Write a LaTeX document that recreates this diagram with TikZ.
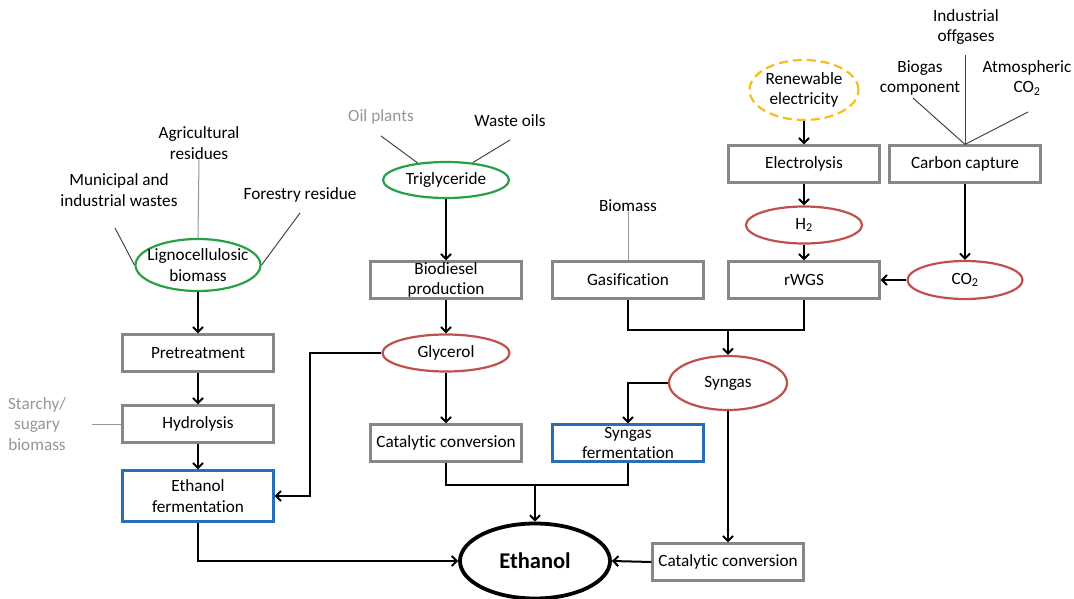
\documentclass[tikz,border=0pt]{standalone}
\usepackage{fontspec}
\setmainfont[Ligatures={NoCommon}]{Carlito}
\usetikzlibrary{shapes.geometric,arrows.meta}
\definecolor{grn}{RGB}{40,160,70}
\definecolor{redb}{RGB}{192,80,77}
\definecolor{blu}{RGB}{40,112,182}
\definecolor{gbox}{RGB}{135,135,135}
\definecolor{yel}{RGB}{245,190,30}
\definecolor{gtxt}{RGB}{150,150,150}
\definecolor{tline}{RGB}{70,70,70}
\begin{document}
\begin{tikzpicture}[x=1pt,y=-1pt,
  font=\fontsize{17.2}{20.5}\selectfont,
  box/.style={draw=gbox,line width=2.2pt,minimum width=151pt,minimum height=37pt,inner sep=0pt,align=center,fill=white},
  bbox/.style={box,draw=blu},
  ell/.style={ellipse,line width=2.2pt,inner sep=0pt},
  gell/.style={ell,draw=grn},
  rell/.style={ell,draw=redb},
  lbl/.style={align=center,inner sep=0pt},
  glbl/.style={lbl,text=gtxt},
  arr/.style={-{Straight Barb[length=5pt,width=10pt]},line width=2pt},
  con/.style={line width=2pt},
  thinl/.style={line width=1pt,draw=tline},
  thing/.style={line width=1pt,draw=gtxt}
]
\useasboundingbox (0,0) rectangle (1074,599);

% ellipses
\node[gell,minimum width=125pt,minimum height=52pt] (lig) at (198,265) {};
\node[lbl] at (lig) {Lignocellulosic\\biomass};
\node[gell,minimum width=126pt,minimum height=36pt] (trig) at (446,180) {};
\node[lbl] at (trig) {Triglyceride};
\node[rell,minimum width=127pt,minimum height=37pt] (glyc) at (446,353) {};
\node[lbl] at (glyc) {Glycerol};
\node[rell,minimum width=118pt,minimum height=54pt] (syn) at (728,383) {};
\node[lbl] at (syn) {Syngas};
\node[rell,minimum width=116pt,minimum height=37pt] (h2) at (804,225) {};
\node[lbl] at (h2) {H\textsubscript{2}};
\node[rell,minimum width=115pt,minimum height=38pt] (co2) at (965,280) {};
\node[lbl] at (co2) {CO\textsubscript{2}};
\node[ell,draw=yel,dash pattern=on 9pt off 5pt,minimum width=109pt,minimum height=60pt] (ren) at (804,90) {};
\node[lbl] at (ren) {Renewable\\electricity};
\node[ell,draw=black,line width=3.8pt,minimum width=150pt,minimum height=75pt] (eth) at (535,561) {};
\node[lbl,font=\fontsize{22.5}{26}\selectfont\bfseries] at (eth) {Ethanol};

% boxes
\node[box] (pre) at (198,353) {Pretreatment};
\node[box] (hyd) at (198,424) {Hydrolysis};
\node[bbox,minimum height=51pt] (efer) at (198,496) {Ethanol\\fermentation};
\node[box] (bio) at (446,280) {Biodiesel\\production};
\node[box] (catl) at (446,443) {Catalytic conversion};
\node[bbox] (sfer) at (628,443) {Syngas\\fermentation};
\node[box] (gas) at (628,280) {Gasification};
\node[box] (rwgs) at (804,280) {rWGS};
\node[box] (elec) at (804,164) {Electrolysis};
\node[box] (cc) at (965,164) {Carbon capture};
\node[box] (catr) at (728,562) {Catalytic conversion};

% input labels
\node[lbl] (agr) at (199,143) {Agricultural\\residues};
\node[lbl] (mun) at (119,190) {Municipal and\\industrial wastes};
\node[lbl] (for) at (300,195) {Forestry residue};
\node[glbl] (star) at (37,424) {Starchy/\\sugary\\biomass};
\node[glbl] (oil) at (381,117) {Oil plants};
\node[lbl] (waste) at (510,121) {Waste oils};
\node[lbl] (bmass) at (628,206) {Biomass};
\node[lbl] (ind) at (966,27) {Industrial\\offgases};
\node[lbl] (biog) at (920,78) {Biogas\\component};
\node[lbl] (atm) at (1027,78) {Atmospheric\\CO\textsubscript{2}};

% input lines
\coordinate (munend) at (115,228);
\coordinate (forend) at (300,213);
\coordinate (starend) at (92,424);
\coordinate (oilend) at (381,136);
\coordinate (wasteend) at (510,140);
\coordinate (biogend) at (913,98);
\coordinate (atmend) at (1028,112);
\coordinate (indend) at (965,55);
\draw[thing] (agr.south) -- (lig.north);
\draw[thinl] (munend) -- (lig.west);
\draw[thinl] (forend) -- (lig.east);
\draw[thing] (starend) -- (hyd.west);
\draw[thinl] (oilend) -- (trig.149);
\draw[thinl] (wasteend) -- (trig.33);
\draw[thing] (bmass.south) -- (gas.north);
\draw[thinl] (indend) -- (cc.north);
\draw[thinl] (biogend) -- (cc.north);
\draw[thinl] (atmend) -- (cc.north);

% flow
\draw[arr] (lig.south) -- (pre.north);
\draw[arr] (pre) -- (hyd);
\draw[arr] (hyd) -- (efer);
\coordinate (g1) at (310,353);
\draw[arr] (glyc.west) -- (g1) |- (efer.east);
\draw[arr] (efer.south) |- (eth.west);
\draw[arr] (trig) -- (bio);
\draw[arr] (bio) -- (glyc);
\draw[arr] (glyc) -- (catl);
\coordinate (m1) at (535,485);
\draw[con] (catl.south) |- (m1) -| (sfer.south);
\draw[arr] (m1) -- (eth.north);
\coordinate (m2) at (728,330);
\draw[con] (gas.south) |- (m2) -| (rwgs.south);
\draw[arr] (m2) -- (syn.north);
\draw[arr] (syn.west) -| (sfer.north);
\draw[arr] (syn.south) -- (catr.north);
\draw[arr] (catr.west) -- (eth.east);
\draw[arr] (ren) -- (elec);
\draw[arr] (elec) -- (h2);
\draw[arr] (h2) -- (rwgs);
\draw[arr] (cc) -- (co2);
\draw[arr] (co2) -- (rwgs);
\end{tikzpicture}
\end{document}
